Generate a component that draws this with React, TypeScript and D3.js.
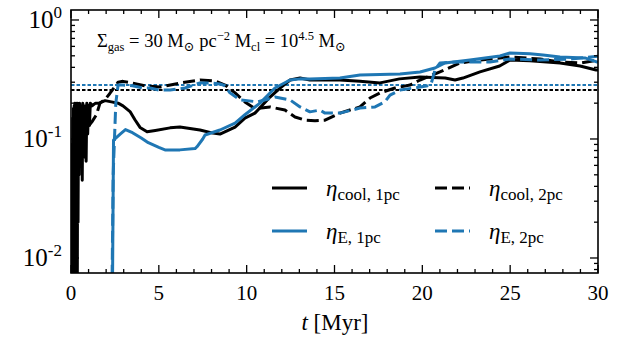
import React from "react";
import * as d3 from "d3";

// Time axis (Myr) and efficiencies for each run
const coolT1 = [0, 0.02, 0.04, 0.06, 0.08, 0.1, 0.12, 0.14, 0.16, 0.18, 0.2, 0.22, 0.24, 0.26, 0.28, 0.3, 0.32, 0.34, 0.36, 0.38, 0.4, 0.43, 0.46, 0.49, 0.52, 0.55, 0.58, 0.61, 0.64, 0.67, 0.7, 0.74, 0.78, 0.82, 0.86, 0.9, 0.95, 1.0, 1.05, 1.1, 1.2, 1.4, 1.6, 1.94, 2.3, 2.68, 2.96, 3.36, 3.64, 3.93, 4.33, 4.8, 5.64, 6.2, 7.34, 8.08, 8.48, 9.34, 9.9, 10.47, 11.33, 11.9, 12.47, 13.04, 13.6, 15.31, 16.45, 17.59, 18.7, 19.87, 21.3, 21.86, 22.31, 23.28, 24.4, 24.99, 26.13, 27.84, 28.98, 29.89, 30];
const coolV1 = [0.005, 0.03, 0.006, 0.09, 0.007, 0.15, 0.006, 0.18, 0.008, 0.19, 0.006, 0.2, 0.01, 0.19, 0.006, 0.2, 0.012, 0.19, 0.007, 0.2, 0.02, 0.19, 0.05, 0.2, 0.06, 0.18, 0.08, 0.19, 0.045, 0.2, 0.07, 0.18, 0.1, 0.19, 0.065, 0.2, 0.11, 0.19, 0.13, 0.2, 0.19, 0.2, 0.2, 0.21, 0.205, 0.2, 0.19, 0.17, 0.145, 0.125, 0.115, 0.118, 0.124, 0.126, 0.119, 0.112, 0.11, 0.126, 0.15, 0.165, 0.225, 0.268, 0.313, 0.326, 0.313, 0.313, 0.305, 0.296, 0.32, 0.332, 0.325, 0.313, 0.325, 0.366, 0.41, 0.461, 0.455, 0.435, 0.411, 0.38, 0.38];

const coolT2 = [0.45, 0.85, 1.2, 1.45, 1.65, 1.94, 2.2, 2.45, 2.68, 2.96, 3.5, 4.2, 5.07, 6.2, 7.34, 8.2, 8.77, 9.34, 9.9, 10.47, 11.33, 12.18, 12.75, 13.32, 13.89, 14.46, 15.31, 16.45, 17.02, 17.59, 18.44, 19.3, 19.87, 21.0, 22.14, 23.28, 24.99, 26.7, 27.84, 28.98, 30];
const coolV2 = [0.1, 0.12, 0.14, 0.16, 0.2, 0.215, 0.24, 0.27, 0.3, 0.305, 0.295, 0.28, 0.273, 0.295, 0.313, 0.307, 0.284, 0.244, 0.205, 0.18, 0.186, 0.175, 0.153, 0.144, 0.142, 0.144, 0.165, 0.186, 0.221, 0.244, 0.268, 0.284, 0.313, 0.366, 0.435, 0.461, 0.489, 0.47, 0.444, 0.435, 0.461];

const energyT1 = [2.36, 2.42, 2.8, 3.1, 3.5, 4.0, 4.4, 5.0, 5.35, 6.2, 7.06, 7.17, 7.5, 7.63, 8.48, 9.34, 9.9, 10.76, 11.61, 12.47, 13.04, 13.6, 15.31, 16.45, 18.73, 19.87, 20.72, 21.29, 22.71, 24.42, 24.99, 26.13, 26.87, 27.84, 29.26, 30];
const energyV1 = [0.005, 0.098, 0.11, 0.12, 0.113, 0.102, 0.093, 0.085, 0.081, 0.081, 0.083, 0.086, 0.1, 0.108, 0.119, 0.136, 0.16, 0.2, 0.268, 0.313, 0.32, 0.319, 0.326, 0.345, 0.352, 0.366, 0.395, 0.435, 0.461, 0.498, 0.528, 0.52, 0.508, 0.489, 0.48, 0.44];

const energyT2 = [2.33, 2.4, 2.55, 2.68, 2.96, 3.5, 4.1, 4.5, 5.0, 5.64, 6.49, 7.34, 7.9, 8.48, 8.77, 9.05, 9.62, 10.64, 11.61, 12.47, 13.04, 13.6, 14.17, 14.46, 15.31, 16.45, 17.31, 17.87, 18.16, 18.73, 19.87, 20.3, 20.5, 20.72, 21.0, 22.14, 23.85, 24.99, 26.7, 28.41, 30];
const energyV2 = [0.005, 0.05, 0.2, 0.284, 0.284, 0.28, 0.268, 0.268, 0.258, 0.258, 0.268, 0.296, 0.296, 0.29, 0.28, 0.244, 0.213, 0.205, 0.225, 0.213, 0.186, 0.169, 0.175, 0.165, 0.165, 0.182, 0.186, 0.205, 0.234, 0.258, 0.273, 0.28, 0.29, 0.38, 0.435, 0.444, 0.444, 0.47, 0.461, 0.47, 0.495];

// Reference levels drawn as dotted lines
const refCool = 0.258;
const refEnergy = 0.284;

const xTicks = [0, 5, 10, 15, 20, 25, 30];
const yDecades = [-2, -1, 0];

const W = 630;
const H = 342;
const L = 71;
const R = 598;
const T = 10;
const B = 273;

const BLUE = "#1f77b4";
const FONT = "'Liberation Serif', 'DejaVu Serif', serif";

function zip(ts: number[], vs: number[]) {
  return ts.map((t, i) => [t, vs[i]] as [number, number]);
}

export default function App() {
  const x = d3.scaleLinear().domain([0, 30]).range([L, R]);
  const y = d3.scaleLog().domain([0.00748, 1.213]).range([B, T]);
  const line = d3
    .line<[number, number]>()
    .x((d) => x(d[0]))
    .y((d) => y(d[1]));

  const series = [
    { d: zip(coolT1, coolV1), color: "black", dash: undefined },
    { d: zip(coolT2, coolV2), color: "black", dash: "12 5" },
    { d: zip(energyT1, energyV1), color: BLUE, dash: undefined },
    { d: zip(energyT2, energyV2), color: BLUE, dash: "12 5" },
  ];

  const minorX = d3.range(0, 31).filter((v) => v % 5 !== 0);
  const minorY: number[] = [];
  for (const e of [-3, -2, -1, 0]) {
    for (let k = 2; k <= 9; k++) {
      const v = k * Math.pow(10, e);
      if (v > 0.00748 && v < 1.213) minorY.push(v);
    }
  }

  const tickStroke = { stroke: "black", strokeWidth: 1.3 };

  return (
    <div style={{ position: "fixed", left: 0, top: 0 }}>
      <svg width={W} height={H} style={{ display: "block", background: "white" }}>
        <defs>
          <clipPath id="plotArea">
            <rect x={L} y={T} width={R - L} height={B - T} />
          </clipPath>
        </defs>

        {/* Reference levels and time series */}
        <g clipPath="url(#plotArea)">
          <line x1={L} x2={R} y1={y(refEnergy)} y2={y(refEnergy)} stroke={BLUE} strokeWidth={2} strokeDasharray="3.5 2" />
          <line x1={L} x2={R} y1={y(refCool)} y2={y(refCool)} stroke="black" strokeWidth={2} strokeDasharray="3.5 2" />
          {series.map((s, i) => (
            <path
              key={i}
              d={line(s.d) ?? ""}
              fill="none"
              stroke={s.color}
              strokeWidth={3}
              strokeDasharray={s.dash}
              strokeLinejoin="round"
            />
          ))}
        </g>

        {/* Frame */}
        <rect x={L} y={T} width={R - L} height={B - T} fill="none" stroke="black" strokeWidth={1.6} />

        {/* X ticks (inside, bottom and top) */}
        {xTicks.map((v) => (
          <g key={"xt" + v}>
            <line x1={x(v)} x2={x(v)} y1={B} y2={B - 8} {...tickStroke} />
            <line x1={x(v)} x2={x(v)} y1={T} y2={T + 8} {...tickStroke} />
            <text x={x(v)} y={300} textAnchor="middle" fontFamily={FONT} fontSize={21}>
              {v}
            </text>
          </g>
        ))}
        {minorX.map((v) => (
          <g key={"xm" + v}>
            <line x1={x(v)} x2={x(v)} y1={B} y2={B - 4} {...tickStroke} />
            <line x1={x(v)} x2={x(v)} y1={T} y2={T + 4} {...tickStroke} />
          </g>
        ))}

        {/* Y ticks (inside, left and right) */}
        {yDecades.map((e) => {
          const yy = y(Math.pow(10, e));
          return (
            <g key={"yt" + e}>
              <line x1={L} x2={L + 8} y1={yy} y2={yy} {...tickStroke} />
              <line x1={R} x2={R - 8} y1={yy} y2={yy} {...tickStroke} />
              <text x={62} y={yy + 8} textAnchor="end" fontFamily={FONT} fontSize={25}>
                10
                <tspan dy={-10} fontSize={17}>
                  {e === 0 ? "0" : String(e)}
                </tspan>
              </text>
            </g>
          );
        })}
        {minorY.map((v, i) => (
          <g key={"ym" + i}>
            <line x1={L} x2={L + 4} y1={y(v)} y2={y(v)} {...tickStroke} />
            <line x1={R} x2={R - 4} y1={y(v)} y2={y(v)} {...tickStroke} />
          </g>
        ))}

        {/* X axis label */}
        <text x={335} y={330} textAnchor="middle" fontFamily={FONT} fontSize={23}>
          <tspan fontStyle="italic">t</tspan>
          <tspan> [Myr]</tspan>
        </text>

        {/* Run parameters */}
        <text x={97} y={47} fontFamily={FONT} fontSize={18.5}>
          Σ<tspan dy={4} fontSize={12.5}>gas</tspan>
          <tspan dy={-4}> = 30 M</tspan>
          <tspan dy={4} fontSize={13}>⊙</tspan>
          <tspan dy={-4}> pc</tspan>
          <tspan dy={-7} fontSize={12.5}>−2</tspan>
          <tspan dy={7}> M</tspan>
          <tspan dy={4} fontSize={12.5}>cl</tspan>
          <tspan dy={-4}> = 10</tspan>
          <tspan dy={-7} fontSize={12.5}>4.5</tspan>
          <tspan dy={7}> M</tspan>
          <tspan dy={4} fontSize={13}>⊙</tspan>
        </text>

        {/* Legend */}
        {[
          { x0: 272, yy: 188, color: "black", dash: undefined, sub: "cool, 1pc" },
          { x0: 435, yy: 188, color: "black", dash: "12 5", sub: "cool, 2pc" },
          { x0: 272, yy: 231, color: BLUE, dash: undefined, sub: "E, 1pc" },
          { x0: 435, yy: 231, color: BLUE, dash: "12 5", sub: "E, 2pc" },
        ].map((it, i) => (
          <g key={"lg" + i}>
            <line x1={it.x0} x2={it.x0 + 35} y1={it.yy} y2={it.yy} stroke={it.color} strokeWidth={3} strokeDasharray={it.dash} />
            <text x={it.x0 + 54} y={it.yy + 8} fontFamily={FONT} fontSize={23}>
              <tspan fontStyle="italic">η</tspan>
              <tspan dy={4} fontSize={17}>{it.sub}</tspan>
            </text>
          </g>
        ))}
      </svg>
    </div>
  );
}
